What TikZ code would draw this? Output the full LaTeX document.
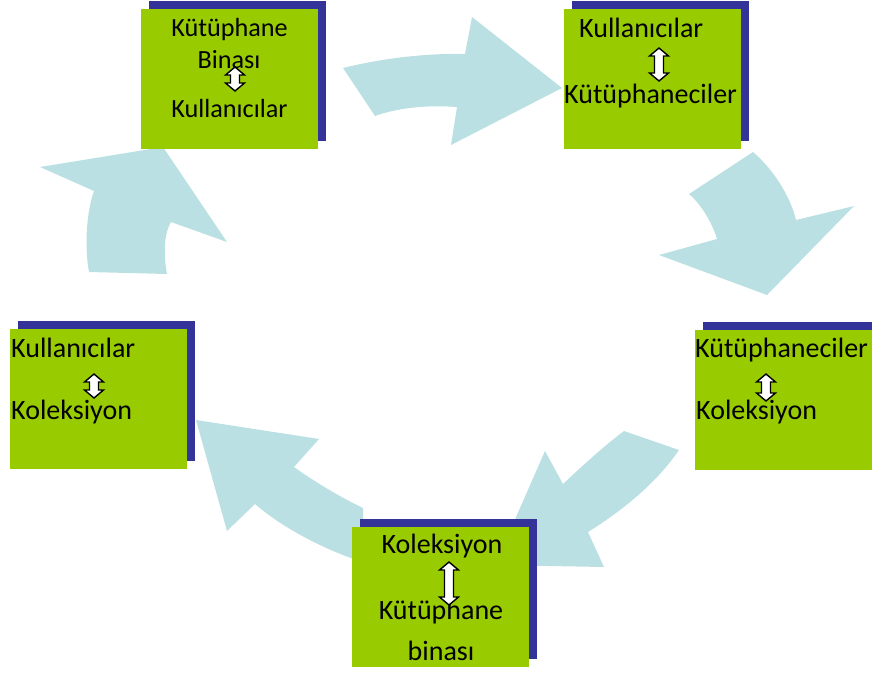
\documentclass[tikz,border=0pt]{standalone}
\usepackage{fontspec}
\setmainfont{Carlito}
\usetikzlibrary{shadows}
\definecolor{cyclefill}{HTML}{BBE0E3}
\definecolor{boxgreen}{HTML}{99CC00}
\definecolor{boxnavy}{HTML}{333399}
\tikzset{
  stagebox/.style={fill=boxgreen, minimum width=177pt, minimum height=140pt, inner sep=0pt,
    general shadow={fill=boxnavy, shadow xshift=8pt, shadow yshift=8pt}},
  bigtxt/.style={font=\fontsize{28}{33}\selectfont, inner sep=0pt, text=black},
  smalltxt/.style={font=\fontsize{26.2}{31}\selectfont, inner sep=0pt, text=black},
  flow/.style={fill=cyclefill},
  swap/.style={fill=white, draw=black, line width=1.4pt, line join=miter}
}
% vertical two-headed block arrow: centre x, top y, bottom y
\newcommand\vswap[3]{%
  \filldraw[swap] (#1,#2) -- ++(9.5,8) -- ++(-5,0) -- (#1+4.5,#3-8) -- ++(5,0) -- (#1,#3)
    -- ++(-9.5,-8) -- ++(5,0) -- (#1-4.5,#2+8) -- ++(-5,0) -- cycle;
}
\begin{document}
\begin{tikzpicture}[x=1pt,y=-1pt]
\useasboundingbox (0,0) rectangle (872,673);
\clip (0,0) rectangle (872,673);

% curved cycle arrows
\fill[flow] (343,68) .. controls (375,60) and (420,53) .. (465,54) -- (472,17) -- (562,88)
  -- (451,145) -- (457,107) .. controls (430,105) and (400,107) .. (375,116) -- cycle;
\fill[flow] (689,194) -- (753,152) .. controls (772,168) and (790,195) .. (796,220)
  -- (854,206) -- (767,295) -- (659,255) -- (717,239) .. controls (713,225) and (702,205) .. (689,194) -- cycle;
\fill[flow] (624,431) -- (679,450) .. controls (655,485) and (620,512) .. (588,532)
  -- (604,567) -- (495,565) -- (545,451) -- (563,484) .. controls (580,468) and (605,445) .. (624,431) -- cycle;
\fill[flow] (196,420) -- (319,439) -- (294,467) .. controls (315,482) and (340,497) .. (363,508)
  -- (363,562) .. controls (330,552) and (285,530) .. (255,504) -- (227,531) -- cycle;
\fill[flow] (89,272) .. controls (84,245) and (87,210) .. (94,191) -- (40,167) -- (163,147)
  -- (227,242) -- (171,222) .. controls (163,235) and (164,258) .. (167,274) -- cycle;

% stage boxes
\node[stagebox] (b1) at (229.5,79) {};
\node[stagebox] (b2) at (652.5,79) {};
\node[stagebox] (b3) at (98.5,399) {};
\node[stagebox] (b4) at (783.5,399.5) {};
\node[stagebox] (b5) at (440.5,597) {};

% box 1
\node[smalltxt, anchor=base] (b1a) at (229.5,36) {Kütüphane};
\node[smalltxt, anchor=base] (b1b) at (229,68) {Binası};
\node[smalltxt, anchor=base] (b1c) at (229.5,117) {Kullanıcılar};
\vswap{235}{67}{91}

% box 2
\node[bigtxt, anchor=base west] (b2a) at (579,37) {Kullanıcılar};
\node[bigtxt, anchor=base west] (b2b) at (564,103) {Kütüphaneciler};
\vswap{659}{48}{81}

% box 3
\node[bigtxt, anchor=base west] (b3a) at (11,357) {Kullanıcılar};
\node[bigtxt, anchor=base west] (b3b) at (11,419) {Koleksiyon};
\vswap{94}{374}{398}

% box 4
\node[bigtxt, anchor=base west] (b4a) at (695,357) {Kütüphaneciler};
\node[bigtxt, anchor=base west] (b4b) at (696,419) {Koleksiyon};
\vswap{766}{374}{401}

% box 5
\node[bigtxt, anchor=base] (b5a) at (442,553) {Koleksiyon};
\node[bigtxt, anchor=base] (b5b) at (441,619) {Kütüphane};
\node[bigtxt, anchor=base] (b5c) at (441,660) {binası};
\vswap{449}{562}{605}
\end{tikzpicture}
\end{document}
